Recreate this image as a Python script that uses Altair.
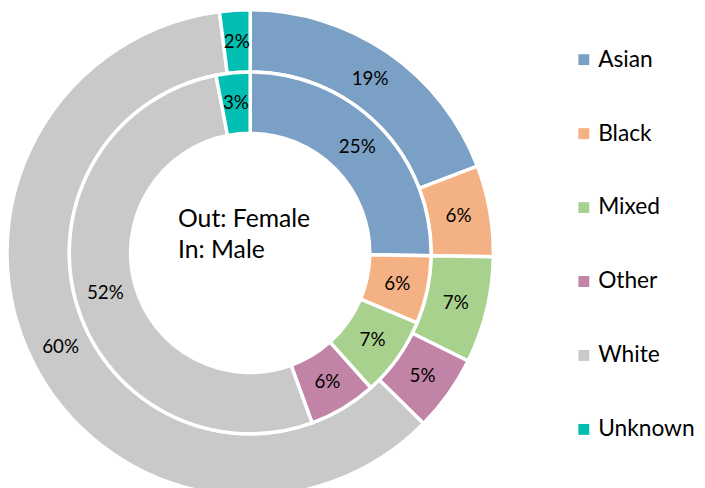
import altair as alt
import pandas as pd

categories = ["Asian", "Black", "Mixed", "Other", "White", "Unknown"]
female_pct = [19, 6, 7, 5, 60, 2]   # outer ring
male_pct = [25, 6, 7, 6, 52, 3]     # inner ring
colors = ["#7BA0C6", "#F4B183", "#A9D18E", "#C183A6", "#C9C9C9", "#00BFB2"]
center_lines = ["Out: Female", "In: Male"]

FONT = "Lato"
CX, CY = 245, 245

outer = pd.DataFrame({"cat": categories, "val": female_pct, "idx": range(6)})
outer["label"] = outer["val"].astype(str) + "%"
inner = pd.DataFrame({"cat": categories, "val": male_pct, "idx": range(6)})
inner["label"] = inner["val"].astype(str) + "%"

color = alt.Color(
    "cat:N",
    scale=alt.Scale(domain=categories, range=colors),
    legend=alt.Legend(
        title=None,
        orient="none",
        legendX=571,
        legendY=38,
        symbolType="square",
        symbolSize=121,
        symbolStrokeWidth=0,
        labelFontSize=23,
        labelFont=FONT,
        labelColor="#000000",
        labelOffset=3,
        labelLimit=200,
        rowPadding=50.8,
    ),
)

def ring(df, r_out, r_in):
    return alt.Chart(df).mark_arc(
        radius=r_out, radius2=r_in, stroke="white", strokeWidth=3.5
    ).encode(
        theta=alt.Theta("val:Q", stack=True),
        order=alt.Order("idx:Q"),
        color=color,
        x=alt.value(CX),
        y=alt.value(CY),
    )

def labels(df, r):
    return alt.Chart(df).mark_text(
        radius=r, font=FONT, fontSize=19, color="#000000"
    ).encode(
        theta=alt.Theta("val:Q", stack=True),
        order=alt.Order("idx:Q"),
        text="label:N",
        x=alt.value(CX),
        y=alt.value(CY),
    )

center_df = pd.DataFrame({"t": center_lines, "yy": [219, 250]})
center = alt.Chart(center_df).mark_text(
    align="left", baseline="alphabetic", font=FONT, fontSize=25, color="#000000"
).encode(
    x=alt.value(172),
    y=alt.Y("yy:Q", scale=None),
    text="t:N",
)

chart = alt.layer(
    ring(outer, 246, 183),
    ring(inner, 183, 121),
    labels(outer, 214),
    labels(inner, 152),
    center,
).properties(
    width=697, height=480, padding=0,
    autosize=alt.AutoSizeParams(type="none"),
).configure_view(stroke=None)

chart.save("out.html", embed_options={"renderer": "svg", "actions": False})
